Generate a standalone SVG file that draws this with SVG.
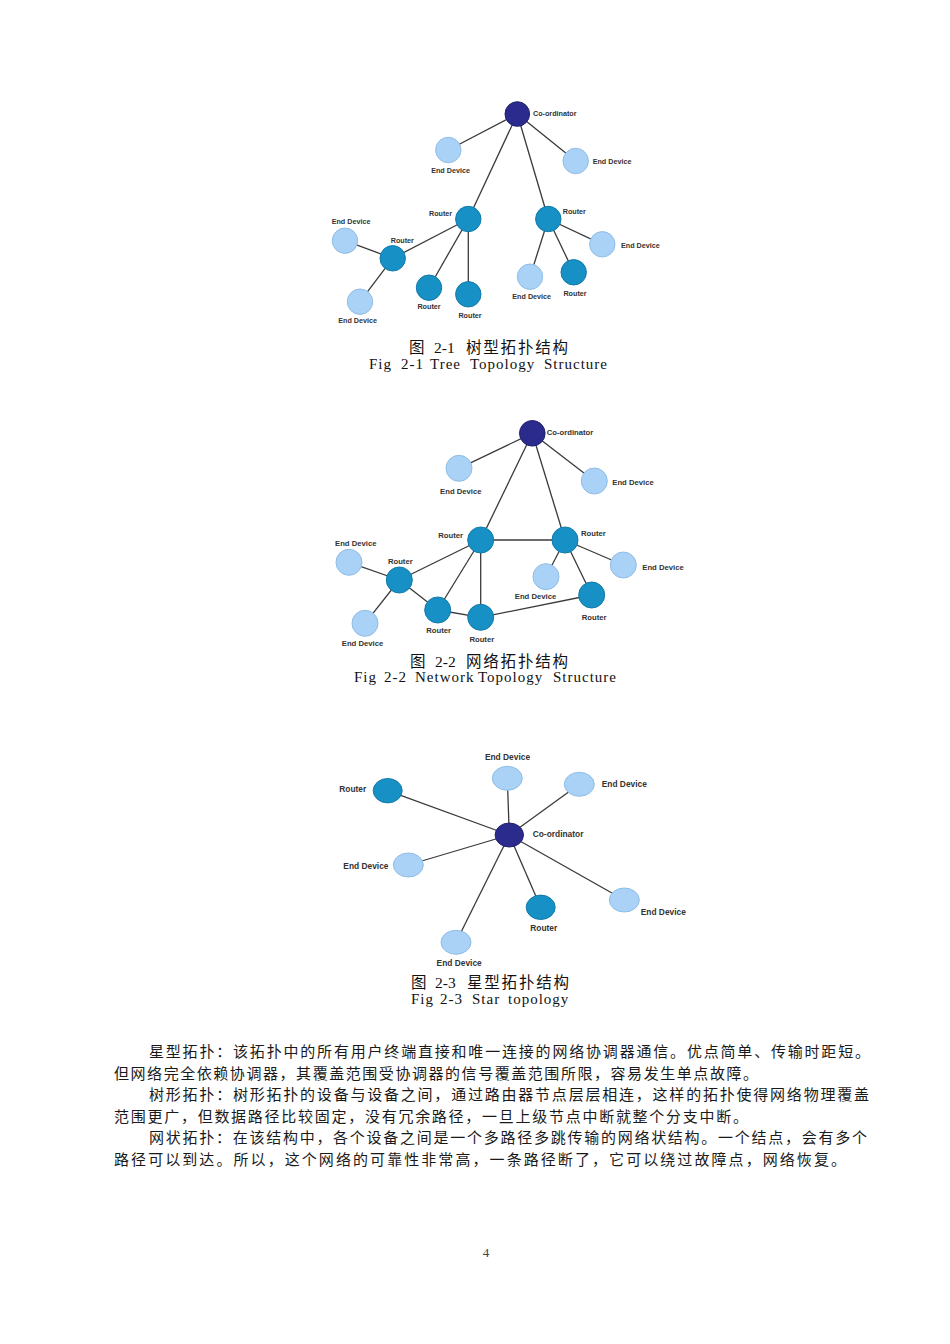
<svg xmlns="http://www.w3.org/2000/svg" width="950" height="1344" viewBox="0 0 950 1344">
<style>
.bg{fill:#ffffff}
.co{fill:#2b2b8e;stroke:#20206e;stroke-width:1}
.ro{fill:#1790c6;stroke:#137aa8;stroke-width:1}
.ed{fill:#a9d2f6;stroke:#8fbde6;stroke-width:1}
.ln line{stroke:#3a3a3a;stroke-width:1.3}
.lb{font-family:"Liberation Sans",Arial,sans-serif;font-weight:bold;fill:#333333}
.t1{font-size:7.2px}
.t2{font-size:7.7px}
.t3{font-size:8.4px}
.m{text-anchor:middle}
.capc{font-family:"Liberation Serif","Noto Sans CJK SC",serif;font-size:15.5px;fill:#111111}
.cj{font-family:"Noto Sans CJK SC",sans-serif;letter-spacing:1.8px}
.cape{font-family:"Liberation Serif",serif;font-size:15px;fill:#111111;letter-spacing:1px}
.body{font-family:"Noto Sans CJK SC",sans-serif;font-size:15px;fill:#1a1a1a}
.pg{font-family:"Liberation Serif",serif;font-size:13px;fill:#444444}
</style>
<rect class="bg" x="0" y="0" width="950" height="1344"/>

<!-- ===== Fig 2-1 Tree ===== -->
<g id="tree-connectors" class="ln">
<line x1="517.3" y1="114" x2="448.3" y2="150"/>
<line x1="517.3" y1="114" x2="575.7" y2="161"/>
<line x1="517.3" y1="114" x2="468.3" y2="219"/>
<line x1="517.3" y1="114" x2="548.3" y2="219"/>
<line x1="468.3" y1="219" x2="392.7" y2="258.3"/>
<line x1="468.3" y1="219" x2="429" y2="287.7"/>
<line x1="468.3" y1="219" x2="468.3" y2="294.3"/>
<line x1="392.7" y1="258.3" x2="345" y2="240.7"/>
<line x1="392.7" y1="258.3" x2="360" y2="301.7"/>
<line x1="548.3" y1="219" x2="602.3" y2="244.3"/>
<line x1="548.3" y1="219" x2="530" y2="276.7"/>
<line x1="548.3" y1="219" x2="573.7" y2="272.3"/>
</g>
<g id="t-coord"><circle class="co" cx="517.3" cy="114" r="12.3"/><text class="lb t1" x="533" y="116">Co-ordinator</text></g>
<g id="t-ed1"><circle class="ed" cx="448.3" cy="150" r="12.7"/><text class="lb t1 m" x="450.5" y="172.6">End Device</text></g>
<g id="t-ed2"><circle class="ed" cx="575.7" cy="161" r="12.7"/><text class="lb t1" x="592.7" y="164.3">End Device</text></g>
<g id="t-r1"><circle class="ro" cx="468.3" cy="219" r="12.7"/><text class="lb t1" x="429" y="216">Router</text></g>
<g id="t-r2"><circle class="ro" cx="548.3" cy="219" r="12.7"/><text class="lb t1" x="562.7" y="214.3">Router</text></g>
<g id="t-ed3"><circle class="ed" cx="602.3" cy="244.3" r="12.7"/><text class="lb t1" x="621" y="247.6">End Device</text></g>
<g id="t-ed4"><circle class="ed" cx="530" cy="276.7" r="12.7"/><text class="lb t1 m" x="531.7" y="299">End Device</text></g>
<g id="t-r3"><circle class="ro" cx="573.7" cy="272.3" r="12.7"/><text class="lb t1 m" x="575" y="296">Router</text></g>
<g id="t-r4"><circle class="ro" cx="392.7" cy="258.3" r="12.7"/><text class="lb t1" x="390.7" y="242.6">Router</text></g>
<g id="t-ed5"><circle class="ed" cx="345" cy="240.7" r="12.7"/><text class="lb t1" x="331.7" y="223.6">End Device</text></g>
<g id="t-ed6"><circle class="ed" cx="360" cy="301.7" r="12.7"/><text class="lb t1" x="338.3" y="322.6">End Device</text></g>
<g id="t-r5"><circle class="ro" cx="429" cy="287.7" r="12.7"/><text class="lb t1 m" x="429" y="309.3">Router</text></g>
<g id="t-r6"><circle class="ro" cx="468.3" cy="294.3" r="12.7"/><text class="lb t1 m" x="470" y="317.6">Router</text></g>

<g id="cap1">
<text class="capc" y="353"><tspan x="409">图</tspan><tspan x="434">2-1</tspan><tspan class="cj" x="466">树型拓扑结构</tspan></text>
<text class="cape" y="369"><tspan x="369">Fig</tspan><tspan x="401">2-1</tspan><tspan x="430">Tree</tspan><tspan x="470">Topology</tspan><tspan x="544">Structure</tspan></text>
</g>

<!-- ===== Fig 2-2 Mesh ===== -->
<g id="mesh-connectors" class="ln">
<line x1="532.3" y1="433.3" x2="459" y2="468.3"/>
<line x1="532.3" y1="433.3" x2="594.3" y2="481"/>
<line x1="532.3" y1="433.3" x2="480.7" y2="540"/>
<line x1="532.3" y1="433.3" x2="565" y2="540"/>
<line x1="480.7" y1="540" x2="565" y2="540"/>
<line x1="480.7" y1="540" x2="399.3" y2="580"/>
<line x1="480.7" y1="540" x2="437.7" y2="610"/>
<line x1="480.7" y1="540" x2="480.7" y2="617.3"/>
<line x1="399.3" y1="580" x2="349" y2="562.3"/>
<line x1="399.3" y1="580" x2="365" y2="623.3"/>
<line x1="399.3" y1="580" x2="437.7" y2="610"/>
<line x1="437.7" y1="610" x2="480.7" y2="617.3"/>
<line x1="480.7" y1="617.3" x2="591.7" y2="595"/>
<line x1="565" y1="540" x2="546" y2="576.7"/>
<line x1="565" y1="540" x2="591.7" y2="595"/>
<line x1="565" y1="540" x2="623.3" y2="565"/>
</g>
<g id="m-coord"><circle class="co" cx="532.3" cy="433.3" r="12.8"/><text class="lb t2" x="546.7" y="435">Co-ordinator</text></g>
<g id="m-ed1"><circle class="ed" cx="459" cy="468.3" r="13"/><text class="lb t2 m" x="460.8" y="493.8">End Device</text></g>
<g id="m-ed2"><circle class="ed" cx="594.3" cy="481" r="13"/><text class="lb t2" x="612.3" y="484.5">End Device</text></g>
<g id="m-r1"><circle class="ro" cx="480.7" cy="540" r="13"/><text class="lb t2" x="438.3" y="537.8">Router</text></g>
<g id="m-r2"><circle class="ro" cx="565" cy="540" r="13"/><text class="lb t2" x="581" y="536">Router</text></g>
<g id="m-ed3"><circle class="ed" cx="623.3" cy="565" r="13"/><text class="lb t2" x="642.3" y="569.5">End Device</text></g>
<g id="m-ed4"><circle class="ed" cx="546" cy="576.7" r="13"/><text class="lb t2 m" x="535.5" y="598.8">End Device</text></g>
<g id="m-r3"><circle class="ro" cx="591.7" cy="595" r="13"/><text class="lb t2 m" x="594.2" y="619.5">Router</text></g>
<g id="m-r4"><circle class="ro" cx="399.3" cy="580" r="13"/><text class="lb t2 m" x="400.3" y="563.8">Router</text></g>
<g id="m-ed5"><circle class="ed" cx="349" cy="562.3" r="13"/><text class="lb t2" x="335" y="545.5">End Device</text></g>
<g id="m-ed6"><circle class="ed" cx="365" cy="623.3" r="13"/><text class="lb t2 m" x="362.5" y="645.5">End Device</text></g>
<g id="m-r5"><circle class="ro" cx="437.7" cy="610" r="13"/><text class="lb t2 m" x="438.7" y="632.8">Router</text></g>
<g id="m-r6"><circle class="ro" cx="480.7" cy="617.3" r="13"/><text class="lb t2 m" x="481.8" y="641.8">Router</text></g>

<g id="cap2">
<text class="capc" y="667"><tspan x="410">图</tspan><tspan x="435">2-2</tspan><tspan class="cj" x="466">网络拓扑结构</tspan></text>
<text class="cape" y="682"><tspan x="354">Fig</tspan><tspan x="384">2-2</tspan><tspan x="415">Network</tspan><tspan x="478">Topology</tspan><tspan x="553">Structure</tspan></text>
</g>

<!-- ===== Fig 2-3 Star ===== -->
<g id="star-connectors" class="ln">
<line x1="509.3" y1="835" x2="507.3" y2="778.3"/>
<line x1="509.3" y1="835" x2="579.3" y2="784.3"/>
<line x1="509.3" y1="835" x2="387.7" y2="790.7"/>
<line x1="509.3" y1="835" x2="408.3" y2="865"/>
<line x1="509.3" y1="835" x2="540.7" y2="907.3"/>
<line x1="509.3" y1="835" x2="624.3" y2="900"/>
<line x1="509.3" y1="835" x2="456" y2="942.3"/>
</g>
<g id="s-coord"><ellipse class="co" cx="509.3" cy="835" rx="14.2" ry="12"/><text class="lb t3" x="532.7" y="837.3">Co-ordinator</text></g>
<g id="s-ed1"><ellipse class="ed" cx="507.3" cy="778.3" rx="15" ry="12"/><text class="lb t3 m" x="507.5" y="760.3">End Device</text></g>
<g id="s-ed2"><ellipse class="ed" cx="579.3" cy="784.3" rx="15" ry="12"/><text class="lb t3" x="601.7" y="787.3">End Device</text></g>
<g id="s-r1"><ellipse class="ro" cx="387.7" cy="790.7" rx="14.5" ry="12.2"/><text class="lb t3" x="339.3" y="792">Router</text></g>
<g id="s-ed3"><ellipse class="ed" cx="408.3" cy="865" rx="15" ry="12"/><text class="lb t3" x="343.3" y="868.7">End Device</text></g>
<g id="s-r2"><ellipse class="ro" cx="540.7" cy="907.3" rx="14.5" ry="12.2"/><text class="lb t3 m" x="543.8" y="930.7">Router</text></g>
<g id="s-ed4"><ellipse class="ed" cx="624.3" cy="900" rx="15" ry="12"/><text class="lb t3" x="640.7" y="915.3">End Device</text></g>
<g id="s-ed5"><ellipse class="ed" cx="456" cy="942.3" rx="15" ry="12"/><text class="lb t3 m" x="459.2" y="966.3">End Device</text></g>

<g id="cap3">
<text class="capc" y="988"><tspan x="411">图</tspan><tspan x="435">2-3</tspan><tspan class="cj" x="467">星型拓扑结构</tspan></text>
<text class="cape" y="1004"><tspan x="411">Fig</tspan><tspan x="440">2-3</tspan><tspan x="472">Star</tspan><tspan x="508">topology</tspan></text>
</g>

<!-- ===== Body text ===== -->
<g id="body">
<text class="body" x="149" y="1057" textLength="721" lengthAdjust="spacing">星型拓扑：该拓扑中的所有用户终端直接和唯一连接的网络协调器通信。优点简单、传输时距短。</text>
<text class="body" x="114" y="1078.5" textLength="644" lengthAdjust="spacing">但网络完全依赖协调器，其覆盖范围受协调器的信号覆盖范围所限，容易发生单点故障。</text>
<text class="body" x="149" y="1100" textLength="720" lengthAdjust="spacing">树形拓扑：树形拓扑的设备与设备之间，通过路由器节点层层相连，这样的拓扑使得网络物理覆盖</text>
<text class="body" x="114" y="1121.5" textLength="634" lengthAdjust="spacing">范围更广，但数据路径比较固定，没有冗余路径，一旦上级节点中断就整个分支中断。</text>
<text class="body" x="149" y="1143" textLength="718" lengthAdjust="spacing">网状拓扑：在该结构中，各个设备之间是一个多路径多跳传输的网络状结构。一个结点，会有多个</text>
<text class="body" x="114" y="1164.5" textLength="732" lengthAdjust="spacing">路径可以到达。所以，这个网络的可靠性非常高，一条路径断了，它可以绕过故障点，网络恢复。</text>
</g>

<text class="pg" x="486" y="1257" text-anchor="middle">4</text>
</svg>
